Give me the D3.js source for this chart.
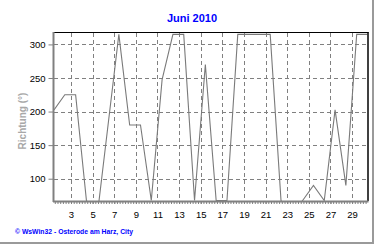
<!DOCTYPE html>
<html><head><meta charset="utf-8">
<script src="https://cdn.jsdelivr.net/npm/d3@7"></script>
<style>html,body{margin:0;padding:0;background:#fff;}svg{display:block;}</style>
</head><body>
<script>
// ---- data ----
const days = d3.range(1, 31);
const direction = [202.5, 225, 225, 67.5, 45, 180, 315, 180, 180, 67.5,
                   247.5, 315, 315, 67.5, 270, 67.5, 67.5, 315, 315, 315,
                   315, 67.5, 45, 67.5, 90, 67.5, 202.5, 90, 315, 315];
const xTickLabels = [3,5,7,9,11,13,15,17,19,21,23,25,27,29];
const yTickValues = [100,150,200,250,300];
const title = "Juni 2010";
const yTitle = "Richtung (°)";
const footer = "© WsWin32  -  Osterode am Harz, City";

// ---- layout ----
const W = 380, H = 245;
const L = 54, R = 367.5, T = 33, B = 201;
const labelOffset = 0.427; // day label vs sample time offset (in days)

const svg = d3.select("body").append("svg").attr("width", W).attr("height", H);

const x = d3.scaleLinear().domain([1, 30]).range([L, R]);
const y = d3.scaleLinear().domain([66.8, 317]).range([B, T]);

// outer border
svg.append("line").attr("x1", 373).attr("x2", 373).attr("y1", 0).attr("y2", 244)
  .attr("stroke", "#9a9a9a").attr("stroke-width", 2);
svg.append("line").attr("x1", 0).attr("x2", 374).attr("y1", 243).attr("y2", 243)
  .attr("stroke", "#9a9a9a").attr("stroke-width", 2);

// title
svg.append("text").attr("x", 192).attr("y", 21.7).attr("text-anchor", "middle")
  .attr("font-family", "Liberation Sans, Arial, sans-serif").attr("font-weight", "bold")
  .attr("font-size", 11).attr("fill", "#0000ff").text(title);

// grid
const grid = svg.append("g").attr("stroke", "#808080").attr("stroke-width", 1).attr("stroke-dasharray", "4,3");
yTickValues.forEach(v => {
  grid.append("line").attr("x1", L).attr("x2", R).attr("y1", Math.round(y(v)) + 0.5).attr("y2", Math.round(y(v)) + 0.5);
});
xTickLabels.forEach(d => {
  const px = Math.round(x(d - labelOffset)) + 0.5;
  grid.append("line").attr("x1", px).attr("x2", px).attr("y1", T).attr("y2", B);
});

// data line
svg.append("clipPath").attr("id", "clip").append("rect")
  .attr("x", L).attr("y", T).attr("width", R - L).attr("height", B - T);
const line = d3.line().x((d, i) => x(days[i])).y(d => y(d));
svg.append("path").datum(direction).attr("d", line).attr("clip-path", "url(#clip)")
  .attr("fill", "none").attr("stroke", "#7a7a7a").attr("stroke-width", 1.1);

// frame top/right
svg.append("line").attr("x1", L).attr("x2", R + 1).attr("y1", 32.5).attr("y2", 32.5).attr("stroke", "#000").attr("stroke-width", 1);
svg.append("line").attr("x1", R + 0.5).attr("x2", R + 0.5).attr("y1", 32).attr("y2", B).attr("stroke", "#000").attr("stroke-width", 1.5);

// y axis
const yAxis = d3.axisLeft(y).tickValues(yTickValues).tickSize(5).tickPadding(3).tickFormat(d3.format("d"));
const gy = svg.append("g").attr("transform", `translate(${L - 0.5},0)`).call(yAxis);
gy.select(".domain").remove();
gy.selectAll(".tick line").attr("stroke", "#808080");
gy.selectAll(".tick text").attr("font-family", "Liberation Sans, Arial, sans-serif").attr("font-size", 9.5).attr("fill", "#000");
svg.append("line").attr("x1", 53.5).attr("x2", 53.5).attr("y1", T - 1).attr("y2", B + 1)
  .attr("stroke", "#808080").attr("stroke-width", 2);

// x axis: minor ticks every 6 hours
const minor = [];
for (let t = 3 - labelOffset - 8; t <= 30; t += 0.25) if (t >= 1 && t <= 30) minor.push(t);
const gxm = svg.append("g").attr("transform", `translate(0,${B})`)
  .call(d3.axisBottom(x).tickValues(minor).tickSize(3).tickFormat(""));
gxm.select(".domain").remove();
gxm.selectAll(".tick line").attr("stroke", "#808080");
const xAxis = d3.axisBottom(x).tickValues(xTickLabels.map(d => d - labelOffset))
  .tickSize(3).tickPadding(7).tickFormat(d => Math.round(d + labelOffset));
const gx = svg.append("g").attr("transform", `translate(0,${B})`).call(xAxis);
gx.select(".domain").remove();
gx.selectAll(".tick line").attr("stroke", "#808080");
gx.selectAll(".tick text").attr("font-family", "Liberation Sans, Arial, sans-serif").attr("font-size", 9.5).attr("fill", "#000");
svg.append("line").attr("x1", L - 1).attr("x2", R + 1).attr("y1", B + 0.5).attr("y2", B + 0.5)
  .attr("stroke", "#808080").attr("stroke-width", 2);

// y title
svg.append("text").attr("transform", `translate(25.5,121) rotate(-90)`).attr("text-anchor", "middle")
  .attr("font-family", "Liberation Sans, Arial, sans-serif").attr("font-weight", "bold")
  .attr("font-size", 10).attr("fill", "#a8a8a8").text(yTitle);

// footer
svg.append("text").attr("x", 15).attr("y", 234).attr("font-family", "Liberation Sans, Arial, sans-serif")
  .attr("font-weight", "bold").attr("font-size", 7).attr("fill", "#0000ff")
  .attr("textLength", 118).attr("lengthAdjust", "spacingAndGlyphs").text(footer);
</script>
</body></html>
